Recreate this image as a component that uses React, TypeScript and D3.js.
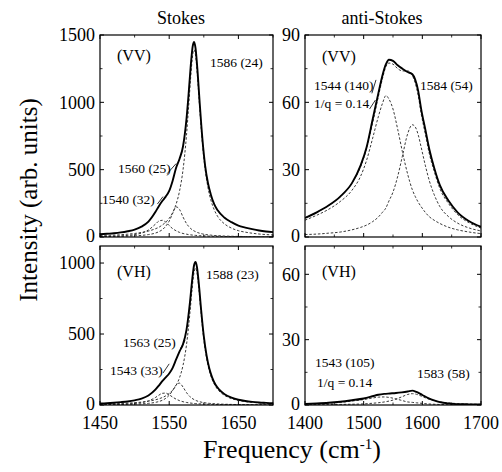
import React from "react";
import * as d3 from "d3";

// ---------- Panel A: Stokes (VV) ----------
const freqA = [1450,1460,1470,1480,1490,1500,1510,1520,1530,1535,1540,1545,1550,1555,1560,1565,1570,1575,1578,1581,1584,1586,1588,1591,1594,1598,1602,1606,1610,1615,1620,1630,1640,1650,1660,1670,1680,1690,1700];
const totalA = [20,24,28,34,43,55,77,114,185,229,267,300,342,418,514,581,674,877,1059,1263,1417,1448,1404,1228,1000,727,527,401,318,244,198,143,110,84,70,58,48,41,36];
const peak1586A = [11,13,14,17,21,26,34,44,61,72,89,110,139,181,244,343,500,756,962,1184,1352,1390,1352,1184,962,695,500,368,278,203,153,97,66,47,36,28,22,18,15];
const peak1560A = [2.8,3.4,4.2,5.2,6.6,8.7,12,18,29,39,54,80,118,175,224,204,148,100,79,63,51,45,40,33,28,23,19,16,14,11,10,7,5.5,4.3,3.5,2.9,2.4,2.0,1.8];
const peak1540A = [3.9,4.9,6.4,8.6,12,18,29,52,95,118,124,110,85,62,46,34,26,21,18,16,14,13,12,11,9.8,8.6,7.6,6.8,6,5.3,4.7,3.7,3.0,2.5,2.1,1.8,1.6,1.4,1.2];

// ---------- Panel B: anti-Stokes (VV) ----------
const freqB = [1400,1420,1440,1460,1480,1495,1505,1515,1525,1532,1538,1543,1550,1558,1566,1575,1583,1588,1593,1598,1605,1612,1620,1630,1645,1660,1680,1700];
const totalB = [8.5,11,14,18,24,32,40,52,64,72,77,79,78.5,76.5,75,73.5,72.5,70,65,57,48,39,31,23,16,11,7,4.5];
const fitB = [8.6,11,14,18,24,31.5,39.5,50.5,62.5,70.5,76,77.5,77,75,74,74,72,68.5,63,55,46,37,29.5,21.5,14.8,10,6.3,4];
const peak1584B = [1.1,1.3,1.7,2.2,3.2,4.3,5.3,6.8,8.9,11,13,16,20,27,36,46,50,49,45.5,40,32,25,19,13.5,9,6.2,4,2.7];
const peak1544B = [7.5,9.7,12.3,15.8,20.8,27.2,34.2,43.7,53.6,59.5,63,61.5,57,48,38,28,21,18,15.5,13.5,11,9,7.5,6,4.3,3.2,2.2,1.5];

// ---------- Panel C: Stokes (VH) ----------
const freqC = [1450,1460,1470,1480,1490,1500,1510,1520,1530,1535,1540,1545,1550,1555,1560,1565,1570,1575,1580,1583,1586,1588,1590,1593,1596,1600,1604,1608,1612,1617,1622,1630,1640,1650,1660,1670,1680,1690,1700];
const totalC = [11,13,16,20,25,33,45,67,108,137,168,195,222,262,321,378,429,529,723,871,986,1008,975,845,678,485,349,257,195,143,110,76,52,37,28,22,18,15,12];
const peak1588C = [6.7,7.7,9.1,10.8,13.1,16.2,20.5,26.8,36.5,43.5,52.4,64.4,81,104.5,139,193,280,424,650,812,937,965,937,812,650,462,329,240,180,131,99,67.5,45,32,24,18.6,14.8,12.1,10];
const peak1563C = [1.8,2.2,2.7,3.4,4.3,5.7,7.9,11.6,18.5,24.3,33,46.8,68.8,102,140.6,154,126,87.4,58.7,46.8,37.8,33,29,24.3,20.5,16.7,13.8,11.6,9.9,8.2,6.9,5.4,4.1,3.2,2.6,2.1,1.8,1.5,1.3];
const peak1543C = [2.6,3.2,4.1,5.4,7.5,10.9,17,28.9,52.5,68.8,82.3,83.8,72,55.6,41.2,30.6,23.1,17.9,14.1,12.4,10.9,10.1,9.3,8.3,7.5,6.6,5.8,5.1,4.6,4,3.6,3,2.4,2,1.7,1.4,1.2,1.1,0.9];

// ---------- Panel D: anti-Stokes (VH) ----------
const freqD = [1400,1420,1440,1460,1480,1500,1515,1525,1535,1545,1555,1565,1575,1583,1590,1600,1610,1620,1630,1645,1660,1680,1700];
const totalD = [0.5,0.7,1.0,1.5,2.2,3.0,4.0,4.7,5.1,5.3,5.5,5.8,6.2,6.6,6.0,4.6,3.2,2.1,1.3,0.7,0.4,0.3,0.2];
const peak1583D = [0.13,0.15,0.2,0.26,0.36,0.51,0.8,1.04,1.39,1.91,2.69,3.75,4.83,5.2,4.91,3.87,2.79,1.98,1.43,0.93,0.65,0.43,0.3];
const peak1543D = [0.4,0.55,0.8,1.2,1.8,2.5,3.2,3.6,3.7,3.4,2.8,2.1,1.4,1.2,1.0,0.75,0.5,0.35,0.25,0.15,0.1,0.05,0.03];

// ---------- Ticks ----------
const stokesXTicks = [1450, 1550, 1650];
const stokesXMinor = [1500, 1600, 1700];
const antiXTicks = [1400, 1500, 1600, 1700];
const antiXMinor = [1450, 1550, 1650];
const yTicksA = [0, 500, 1000, 1500];
const yTicksB = [0, 30, 60, 90];
const yTicksC = [0, 500, 1000];
const yTicksD = [0, 30, 60];

// ---------- Texts ----------
const columnTitles = ["Stokes", "anti-Stokes"];
const yAxisTitle = "Intensity (arb. units)";
const xAxisTitle = "Frequency (cm";

const FONT = "'Liberation Serif', 'Times New Roman', Times, serif";

type Label = { text: string; x: number; y: number; size: number };
type PanelProps = {
  id: string;
  x0: number; x1: number; y0: number; y1: number;
  xDomain: [number, number]; yDomain: [number, number];
  freq: number[];
  data: number[];
  fit?: number[];
  comps: number[][];
  xTicks: number[]; xMinor: number[];
  yTicks: number[];
  showXLabels: boolean;
  labels: Label[];
  leaders: [number, number][][];
};

function Panel(p: PanelProps) {
  const xs = d3.scaleLinear().domain(p.xDomain).range([p.x0, p.x1]);
  const ys = d3.scaleLinear().domain(p.yDomain).range([p.y1, p.y0]);
  const line = d3
    .line<number>()
    .x((_, i) => xs(p.freq[i]))
    .y((v) => ys(v))
    .curve(d3.curveMonotoneX);
  const yMinor = p.yTicks.slice(1).map((t, i) => (t + p.yTicks[i]) / 2);
  const T = 4;
  const t2 = 2.5;
  return (
    <g>
      <defs>
        <clipPath id={`clip-${p.id}`}>
          <rect x={p.x0} y={p.y0} width={p.x1 - p.x0} height={p.y1 - p.y0} />
        </clipPath>
      </defs>
      <g clipPath={`url(#clip-${p.id})`}>
        {p.comps.map((c, i) => (
          <path key={i} d={line(c) || ""} fill="none" stroke="#222" strokeWidth={0.9} strokeDasharray="2.5,1.8" />
        ))}
        {p.fit && (
          <path d={line(p.fit) || ""} fill="none" stroke="#222" strokeWidth={0.9} strokeDasharray="2.5,1.8" />
        )}
        <path d={line(p.data) || ""} fill="none" stroke="#000" strokeWidth={1.9} strokeLinejoin="round" />
      </g>
      <rect x={p.x0} y={p.y0} width={p.x1 - p.x0} height={p.y1 - p.y0} fill="none" stroke="#000" strokeWidth={1.2} />
      {p.yTicks.map((t) => (
        <g key={`y${t}`}>
          <line x1={p.x0} x2={p.x0 + T} y1={ys(t)} y2={ys(t)} stroke="#000" strokeWidth={1} />
          <line x1={p.x1} x2={p.x1 - T} y1={ys(t)} y2={ys(t)} stroke="#000" strokeWidth={1} />
          <text x={p.x0 - 5} y={ys(t)} dy={t === 0 ? "0.28em" : "0.35em"} textAnchor="end" fontFamily={FONT} fontSize={18} fill="#000">
            {t}
          </text>
        </g>
      ))}
      {yMinor.map((t) => (
        <g key={`ym${t}`}>
          <line x1={p.x0} x2={p.x0 + t2} y1={ys(t)} y2={ys(t)} stroke="#000" strokeWidth={0.8} />
          <line x1={p.x1} x2={p.x1 - t2} y1={ys(t)} y2={ys(t)} stroke="#000" strokeWidth={0.8} />
        </g>
      ))}
      {p.xTicks.map((t) => (
        <g key={`x${t}`}>
          <line x1={xs(t)} x2={xs(t)} y1={p.y1} y2={p.y1 - T} stroke="#000" strokeWidth={1} />
          <line x1={xs(t)} x2={xs(t)} y1={p.y0} y2={p.y0 + T} stroke="#000" strokeWidth={1} />
          {p.showXLabels && (
            <text x={xs(t)} y={p.y1 + 24} textAnchor="middle" fontFamily={FONT} fontSize={18} fill="#000">
              {t}
            </text>
          )}
        </g>
      ))}
      {p.xMinor.map((t) => (
        <g key={`xm${t}`}>
          <line x1={xs(t)} x2={xs(t)} y1={p.y1} y2={p.y1 - t2} stroke="#000" strokeWidth={0.8} />
          <line x1={xs(t)} x2={xs(t)} y1={p.y0} y2={p.y0 + t2} stroke="#000" strokeWidth={0.8} />
        </g>
      ))}
      {p.leaders.map((l, i) => (
        <line key={`l${i}`} x1={xs(l[0][0])} y1={ys(l[0][1])} x2={xs(l[1][0])} y2={ys(l[1][1])} stroke="#000" strokeWidth={0.8} />
      ))}
      {p.labels.map((l, i) => (
        <text key={`t${i}`} x={l.x} y={l.y} fontFamily={FONT} fontSize={l.size} fill="#000">
          {l.text}
        </text>
      ))}
    </g>
  );
}

export default function App() {
  const W = 502;
  const H = 472;
  const L = { x0: 100, x1: 273 };
  const R = { x0: 305, x1: 481 };
  const TOP = { y0: 35, y1: 237 };
  const BOT = { y0: 246, y1: 405 };
  return (
    <svg width={W} height={H} viewBox={`0 0 ${W} ${H}`} style={{ position: "absolute", left: 0, top: 0, background: "#fff" }}>
      <rect x={0} y={0} width={W} height={H} fill="#fff" />
      <text x={181} y={24} textAnchor="middle" fontFamily={FONT} fontSize={18}>{columnTitles[0]}</text>
      <text x={382} y={24} textAnchor="middle" fontFamily={FONT} fontSize={18}>{columnTitles[1]}</text>
      <text transform="translate(37,200) rotate(-90)" textAnchor="middle" fontFamily={FONT} fontSize={25}>{yAxisTitle}</text>
      <text x={203} y={458} fontFamily={FONT} fontSize={26}>
        {xAxisTitle}
        <tspan dy={-9} fontSize={15}>-1</tspan>
        <tspan dy={9}>)</tspan>
      </text>

      <Panel
        id="a" {...L} {...TOP}
        xDomain={[1450, 1700]} yDomain={[0, 1500]}
        freq={freqA} data={totalA} comps={[peak1586A, peak1560A, peak1540A]}
        xTicks={stokesXTicks} xMinor={stokesXMinor} yTicks={yTicksA} showXLabels={false}
        labels={[
          { text: "(VV)", x: 117, y: 61, size: 16 },
          { text: "1586 (24)", x: 210, y: 67, size: 13.5 },
          { text: "1560 (25)", x: 118, y: 173, size: 13.5 },
          { text: "1540 (32)", x: 102, y: 204, size: 13.5 },
        ]}
        leaders={[
          [[1547, 470], [1560, 545]],
          [[1533, 245], [1541, 300]],
        ]}
      />
      <Panel
        id="b" {...R} {...TOP}
        xDomain={[1400, 1700]} yDomain={[0, 90]}
        freq={freqB} data={totalB} fit={fitB} comps={[peak1544B, peak1584B]}
        xTicks={antiXTicks} xMinor={antiXMinor} yTicks={yTicksB} showXLabels={false}
        labels={[
          { text: "(VV)", x: 322, y: 62, size: 16 },
          { text: "1544 (140)", x: 314, y: 90, size: 13.5 },
          { text: "1/q = 0.14", x: 314, y: 108, size: 13.5 },
          { text: "1584 (54)", x: 420, y: 90, size: 13.5 },
        ]}
        leaders={[
          [[1514, 64], [1521, 70]],
          [[1510, 57], [1520, 61]],
        ]}
      />
      <Panel
        id="c" {...L} {...BOT}
        xDomain={[1450, 1700]} yDomain={[0, 1120]}
        freq={freqC} data={totalC} comps={[peak1588C, peak1563C, peak1543C]}
        xTicks={stokesXTicks} xMinor={stokesXMinor} yTicks={yTicksC} showXLabels={true}
        labels={[
          { text: "(VH)", x: 117, y: 277, size: 16 },
          { text: "1588 (23)", x: 206, y: 279, size: 13.5 },
          { text: "1563 (25)", x: 123, y: 347, size: 13.5 },
          { text: "1543 (33)", x: 110, y: 375, size: 13.5 },
        ]}
        leaders={[
          [[1566, 395], [1573, 455]],
          [[1541, 225], [1550, 290]],
        ]}
      />
      <Panel
        id="d" {...R} {...BOT}
        xDomain={[1400, 1700]} yDomain={[0, 73]}
        freq={freqD} data={totalD} comps={[peak1543D, peak1583D]}
        xTicks={antiXTicks} xMinor={antiXMinor} yTicks={yTicksD} showXLabels={true}
        labels={[
          { text: "(VH)", x: 322, y: 277, size: 16 },
          { text: "1543 (105)", x: 315, y: 367, size: 13.5 },
          { text: "1/q = 0.14", x: 317, y: 387, size: 13.5 },
          { text: "1583 (58)", x: 417, y: 378, size: 13.5 },
        ]}
        leaders={[]}
      />
    </svg>
  );
}
